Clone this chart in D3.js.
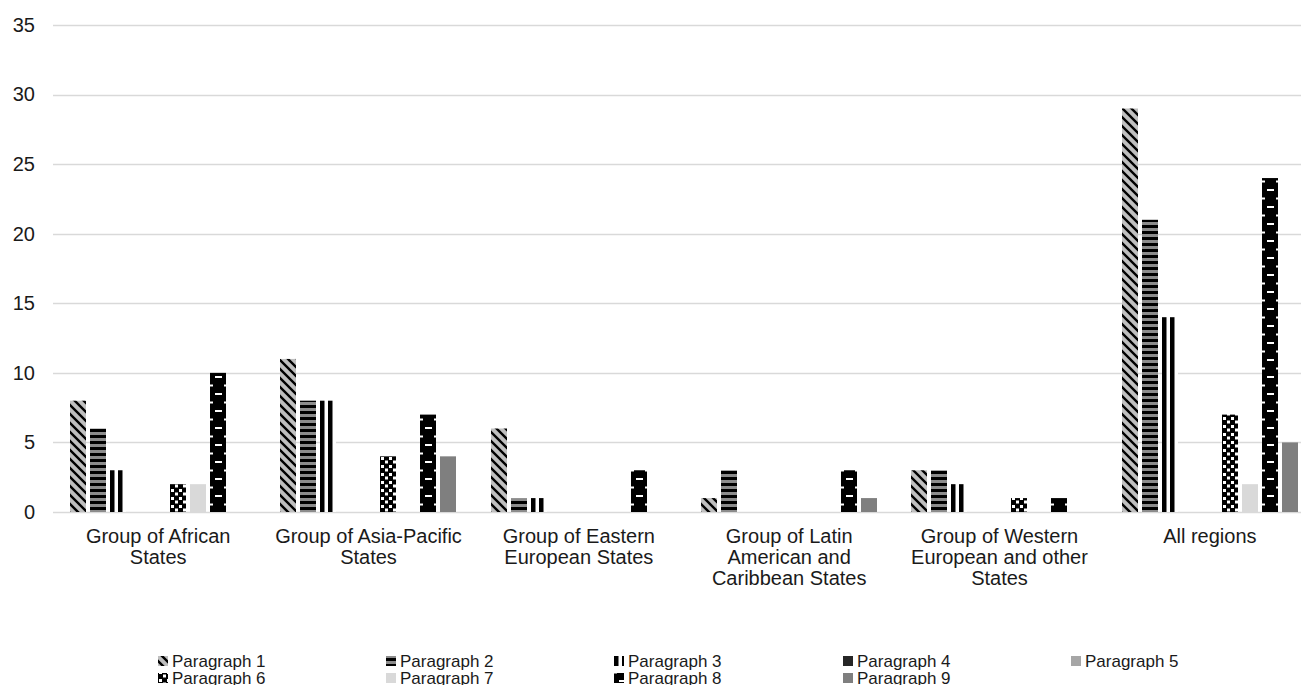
<!DOCTYPE html>
<html>
<head>
<meta charset="utf-8">
<script src="https://cdn.jsdelivr.net/npm/d3@7"></script>
<style>
  body { margin: 0; background: #fff; }
  text { font-family: "Liberation Sans", Arial, sans-serif; fill: #1a1a1a; }
</style>
</head>
<body>
<div id="chart"></div>
<script>
// categories and values
const categories = [
    ["Group of African", "States"],
    ["Group of Asia-Pacific", "States"],
    ["Group of Eastern", "European States"],
    ["Group of Latin", "American and", "Caribbean States"],
    ["Group of Western", "European and other", "States"],
    ["All regions"]
];
const seriesNames = ["Paragraph 1", "Paragraph 2", "Paragraph 3", "Paragraph 4", "Paragraph 5",
    "Paragraph 6", "Paragraph 7", "Paragraph 8", "Paragraph 9"];

const paragraph1 = [8, 11, 6, 1, 3, 29];
const paragraph2 = [6, 8, 1, 3, 3, 21];
const paragraph3 = [3, 8, 1, 0, 2, 14];
const paragraph4 = [0, 0, 0, 0, 0, 0];
const paragraph5 = [0, 0, 0, 0, 0, 0];
const paragraph6 = [2, 4, 0, 0, 1, 7];
const paragraph7 = [2, 0, 0, 0, 0, 2];
const paragraph8 = [10, 7, 3, 3, 1, 24];
const paragraph9 = [0, 4, 0, 1, 0, 5];

const seriesValues = [paragraph1, paragraph2, paragraph3, paragraph4, paragraph5,
    paragraph6, paragraph7, paragraph8, paragraph9];

const yTicks = [0, 5, 10, 15, 20, 25, 30, 35];

const W = 1301, H = 685;
const margin = { top: 25, left: 53, bottom: 173 };
// plot runs past the right edge of the picture
const plotRight = 1315;
const fontSize = 20;

const svg = d3.select("#chart").append("svg")
    .attr("width", W)
    .attr("height", H);

// fill patterns
const defs = svg.append("defs");

function pattern(id, w, h) {
    return defs.append("pattern")
        .attr("id", id)
        .attr("patternUnits", "userSpaceOnUse")
        .attr("width", w)
        .attr("height", h);
}

// P1: wide downward diagonal
let p = pattern("pat1", 9, 9);
p.append("rect").attr("width", 9).attr("height", 9).attr("fill", "#bfbfbf");
p.append("path")
    .attr("d", "M-1,-1L10,10M-1,8L1,10M8,-1L10,1")
    .attr("stroke", "#000").attr("stroke-width", 2.4);

// P2: horizontal stripes
p = pattern("pat2", 6, 6);
p.append("rect").attr("width", 6).attr("height", 6).attr("fill", "#8c8c8c");
p.append("rect").attr("y", 3).attr("width", 6).attr("height", 3).attr("fill", "#000");

// P3: narrow vertical
p = pattern("pat3", 8, 8);
p.append("rect").attr("width", 8).attr("height", 8).attr("fill", "#fff");
p.append("rect").attr("width", 4.5).attr("height", 8).attr("fill", "#000");

// P6: confetti
p = pattern("pat6", 8, 8);
p.append("rect").attr("width", 8).attr("height", 8).attr("fill", "#000");
p.append("rect").attr("x", 1).attr("y", 1).attr("width", 3).attr("height", 3).attr("fill", "#fff");
p.append("rect").attr("x", 5).attr("y", 4.5).attr("width", 3).attr("height", 3).attr("fill", "#fff");

// P8: black with white dashes
p = pattern("pat8", 16, 17);
p.append("rect").attr("width", 16).attr("height", 17).attr("fill", "#000");
p.append("rect").attr("x", 5).attr("y", 2).attr("width", 7).attr("height", 2).attr("fill", "#fff");
p.append("rect").attr("x", 0).attr("y", 10.5).attr("width", 3).attr("height", 2).attr("fill", "#fff");
p.append("rect").attr("x", 14).attr("y", 10.5).attr("width", 2).attr("height", 2).attr("fill", "#fff");

const fills = ["url(#pat1)", "url(#pat2)", "url(#pat3)", "#262626", "#a6a6a6",
    "url(#pat6)", "#d9d9d9", "url(#pat8)", "#7f7f7f"];

// scales
const y = d3.scaleLinear()
    .domain([0, 35])
    .range([H - margin.bottom, margin.top]);

const x0 = d3.scaleBand()
    .domain(d3.range(categories.length))
    .range([margin.left, plotRight]);

const x1 = d3.scaleBand()
    .domain(d3.range(seriesNames.length))
    .range([15, 195])
    .paddingInner(0.2)
    .paddingOuter(0.1);

// gridlines
svg.append("g")
    .selectAll("line")
    .data(yTicks)
    .join("line")
    .attr("x1", margin.left)
    .attr("x2", W)
    .attr("y1", d => Math.round(y(d)) + 0.5)
    .attr("y2", d => Math.round(y(d)) + 0.5)
    .attr("stroke", "#d9d9d9")
    .attr("stroke-width", 1.3);

// y axis labels
const yAxis = svg.append("g")
    .attr("transform", `translate(${margin.left},0)`)
    .call(d3.axisLeft(y).tickValues(yTicks).tickSize(0).tickPadding(18));
yAxis.select(".domain").remove();
yAxis.selectAll("text")
    .attr("font-size", fontSize)
    .style("font-family", '"Liberation Sans", Arial, sans-serif')
    .attr("fill", "#1a1a1a");

// bars
const groups = svg.append("g")
    .selectAll("g")
    .data(categories.map((c, i) => i))
    .join("g");

groups.selectAll("rect")
    .data(gi => seriesValues.map((vals, si) => ({ gi, si, v: vals[gi] })))
    .join("rect")
    .filter(d => d.v > 0)
    // translate so the pattern starts at the bar's left edge
    .attr("transform", d => `translate(${Math.round(x0(d.gi) + x1(d.si))},0)`)
    .attr("x", 0)
    .attr("y", d => y(d.v))
    .attr("width", x1.bandwidth())
    .attr("height", d => y(0) - y(d.v))
    .attr("fill", d => fills[d.si]);

// x labels
const xl = svg.append("g")
    .selectAll("text")
    .data(categories)
    .join("text")
    .attr("text-anchor", "middle")
    .attr("font-size", fontSize)
    .attr("transform", (d, i) => `translate(${x0(i) + x0.bandwidth() / 2},${y(0) + 31})`);

xl.selectAll("tspan")
    .data(d => d)
    .join("tspan")
    .attr("x", 0)
    .attr("y", (d, i) => i * 21)
    .text(d => d);

// legend
const legendX = [158, 386, 614, 843, 1071];
const legendY = [661, 678];

const legend = svg.append("g")
    .selectAll("g")
    .data(seriesNames)
    .join("g")
    .attr("transform", (d, i) => `translate(${legendX[i % 5]},${legendY[Math.floor(i / 5)]})`);

legend.append("rect")
    .attr("x", 0)
    .attr("y", -5)
    .attr("width", 10)
    .attr("height", 10)
    .attr("fill", (d, i) => fills[i]);

legend.append("text")
    .attr("x", 14)
    .attr("y", 0)
    .attr("dy", "0.35em")
    .attr("font-size", 17)
    .text(d => d);
</script>
</body>
</html>
